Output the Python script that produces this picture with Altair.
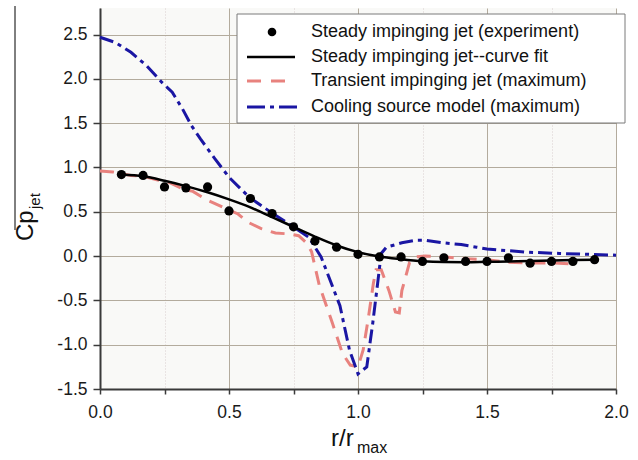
import altair as alt
import pandas as pd

# ---- series values ----
exp_x = [0.083, 0.167, 0.25, 0.333, 0.417, 0.5, 0.583, 0.667, 0.75, 0.833, 0.917, 1.0,
         1.083, 1.167, 1.25, 1.333, 1.417, 1.5, 1.583, 1.667, 1.75, 1.833, 1.917]
exp_y = [0.92, 0.91, 0.78, 0.77, 0.78, 0.51, 0.65, 0.48, 0.33, 0.17, 0.10, 0.02,
         -0.01, -0.01, -0.06, -0.02, -0.06, -0.06, -0.02, -0.08, -0.06, -0.06, -0.04]

fit_x = exp_x
fit_y = [0.92, 0.90, 0.85, 0.79, 0.72, 0.64, 0.55, 0.44, 0.33, 0.22, 0.12, 0.045,
         -0.005, -0.035, -0.058, -0.068, -0.07, -0.065, -0.06, -0.055, -0.05, -0.045, -0.04]

tr_x = [0.0, 0.05, 0.12, 0.17, 0.22, 0.27, 0.32, 0.36, 0.41, 0.535, 0.575, 0.625, 0.68,
        0.735, 0.77, 0.80, 0.82, 0.85, 0.90, 0.94, 0.97, 1.0, 1.02, 1.04, 1.06, 1.07,
        1.09, 1.12, 1.145, 1.16, 1.17, 1.20, 1.22, 1.26, 1.32, 1.42, 1.5, 1.58, 1.67,
        1.75, 1.84]
tr_y = [0.96, 0.95, 0.91, 0.90, 0.86, 0.83, 0.76, 0.73, 0.64, 0.475, 0.38, 0.31, 0.26,
        0.25, 0.23, 0.15, 0.05, -0.33, -0.75, -1.10, -1.23, -1.25, -1.06, -0.70, -0.30,
        -0.155, -0.155, -0.39, -0.63, -0.64, -0.39, -0.07, -0.01, 0.0, -0.005, -0.03,
        -0.04, -0.07, -0.077, -0.077, -0.09]

cs_x = [0.0, 0.06, 0.12, 0.18, 0.24, 0.28, 0.32, 0.355, 0.39, 0.445, 0.50, 0.58, 0.665,
        0.75, 0.81, 0.857, 0.877, 0.93, 0.967, 1.0, 1.034, 1.057, 1.076, 1.09, 1.11,
        1.17, 1.225, 1.26, 1.33, 1.40, 1.46, 1.5, 1.65, 1.78, 2.0]
cs_y = [2.47, 2.41, 2.30, 2.15, 1.96, 1.85, 1.66, 1.47, 1.32, 1.10, 0.89, 0.66, 0.49,
        0.33, 0.21, -0.01, -0.16, -0.56, -1.06, -1.33, -1.25, -0.76, -0.31, 0.03, 0.10,
        0.15, 0.18, 0.18, 0.15, 0.13, 0.10, 0.08, 0.045, 0.03, 0.01]

labels = ["Steady impinging jet (experiment)",
          "Steady impinging jet--curve fit",
          "Transient impinging jet (maximum)",
          "Cooling source model (maximum)"]

tick_vals = [v / 4 for v in range(-6, 12)]      # -1.5 .. 2.75
xtick_vals = [v / 4 for v in range(0, 9)]       # 0 .. 2.0

FONT = "Liberation Sans"
BLUE = "#1a16a3"
PINK = "#e8827e"
MAJOR = "datum.value % 0.5 === 0"
LBL = "datum.value % 0.5 === 0 ? replace(format(datum.value, '.1f'), '\u2212', '-') : ''"

xs = alt.Scale(domain=[0, 2.0], nice=False, zero=False)
ys = alt.Scale(domain=[-1.5, 2.8], nice=False, zero=False)

x_axis = alt.Axis(values=xtick_vals, labelExpr=LBL, title=None, grid=True,
                  gridColor={"condition": {"test": MAJOR, "value": "#b3ab9d"}, "value": "#d9cfcf"},
                  gridDash={"condition": {"test": MAJOR, "value": []}, "value": [1, 2]},
                  gridWidth=1, domainColor="#3a3a3a", domainWidth=2,
                  tickColor="#3a3a3a", tickWidth=1.5, tickSize=5,
                  labelFont=FONT, labelFontSize=17.5, labelColor="#1a1a1a", labelPadding=9,
                  labelFlush=False)
y_axis = alt.Axis(values=tick_vals, labelExpr=LBL, title=None, grid=True,
                  gridColor={"condition": {"test": MAJOR, "value": "#b3ab9d"}, "value": "#d9cfcf"},
                  gridDash={"condition": {"test": MAJOR, "value": []}, "value": [1, 2]},
                  gridWidth=1, domainColor="#3a3a3a", domainWidth=2,
                  tickColor="#3a3a3a", tickWidth=1.5,
                  tickSize={"condition": {"test": MAJOR, "value": 7}, "value": 4},
                  labelFont=FONT, labelFontSize=17.5, labelColor="#1a1a1a", labelPadding=6,
                  labelFlush=False)

df_exp = pd.DataFrame({"x": exp_x, "y": exp_y})
df_fit = pd.DataFrame({"x": fit_x, "y": fit_y})
df_tr = pd.DataFrame({"x": tr_x, "y": tr_y})
df_cs = pd.DataFrame({"x": cs_x, "y": cs_y})

enc = dict(x=alt.X("x:Q", scale=xs, axis=x_axis), y=alt.Y("y:Q", scale=ys, axis=y_axis))
enc2 = dict(x=alt.X("x:Q", scale=xs), y=alt.Y("y:Q", scale=ys))

transient = alt.Chart(df_tr).mark_line(color=PINK, strokeWidth=3, strokeDash=[14, 9]).encode(**enc)
cooling = alt.Chart(df_cs).mark_line(color=BLUE, strokeWidth=3, strokeDash=[14, 5, 4, 5]).encode(**enc2)
fit = alt.Chart(df_fit).mark_line(color="black", strokeWidth=2.5, interpolate="monotone").encode(**enc2)
points = alt.Chart(df_exp).mark_point(filled=True, color="black", size=85, opacity=1).encode(**enc2)

# ---- legend box ----
one = pd.DataFrame({"k": [0]})
box = alt.Chart(one).mark_rect(fill="white", stroke="#7a7a7a", strokeWidth=1).encode(
    x=alt.value(137), x2=alt.value(525), y=alt.value(6), y2=alt.value(115))
row_y = [24, 49, 73, 99]
leg_dot = alt.Chart(one).mark_point(filled=True, color="black", size=75, opacity=1).encode(
    x=alt.value(172), y=alt.value(row_y[0]))
leg_fit = alt.Chart(one).mark_rule(color="black", strokeWidth=2.5).encode(
    x=alt.value(147), x2=alt.value(195), y=alt.value(row_y[1]))
leg_tr = alt.Chart(one).mark_rule(color=PINK, strokeWidth=3, strokeDash=[14, 10]).encode(
    x=alt.value(147), x2=alt.value(195), y=alt.value(row_y[2]))
leg_cs = alt.Chart(one).mark_rule(color=BLUE, strokeWidth=3, strokeDash=[18, 5, 4, 5]).encode(
    x=alt.value(147), x2=alt.value(197), y=alt.value(row_y[3]))
leg_text = [
    alt.Chart(pd.DataFrame({"t": [lab]})).mark_text(
        align="left", baseline="middle", font=FONT, fontSize=18, color="#111111").encode(
        x=alt.value(211), y=alt.value(yy), text="t:N")
    for lab, yy in zip(labels, row_y)
]

# ---- axis titles with subscripts ----
ttl = dict(font=FONT, color="#111111")
y_main = alt.Chart(pd.DataFrame({"t": ["Cp"]})).mark_text(
    align="left", baseline="alphabetic", angle=270, fontSize=24, **ttl).encode(
    x=alt.value(-67), y=alt.value(233), text="t:N")
y_sub = alt.Chart(pd.DataFrame({"t": ["jet"]})).mark_text(
    align="left", baseline="alphabetic", angle=270, fontSize=15, **ttl).encode(
    x=alt.value(-60), y=alt.value(201), text="t:N")
x_main = alt.Chart(pd.DataFrame({"t": ["r/r"]})).mark_text(
    align="left", baseline="alphabetic", fontSize=24, **ttl).encode(
    x=alt.value(231), y=alt.value(438), text="t:N")
x_sub = alt.Chart(pd.DataFrame({"t": ["max"]})).mark_text(
    align="left", baseline="alphabetic", fontSize=16, **ttl).encode(
    x=alt.value(257), y=alt.value(445), text="t:N")

edge = alt.Chart(one).mark_rule(color="black", strokeWidth=1).encode(
    x=alt.value(-85), y=alt.value(-2), y2=alt.value(222))

chart = alt.layer(
    transient, cooling, fit, points, box, leg_dot, leg_fit, leg_tr, leg_cs, *leg_text,
    y_main, y_sub, x_main, x_sub, edge
).properties(
    width=516, height=381,
    padding={"left": 100, "top": 8, "right": 22, "bottom": 71},
    autosize=alt.AutoSizeParams(type="none"),
    background="white",
).configure_view(strokeWidth=0, fill="#f9f9f7")

chart.save("out.html", embed_options={"renderer": "svg", "actions": False})
